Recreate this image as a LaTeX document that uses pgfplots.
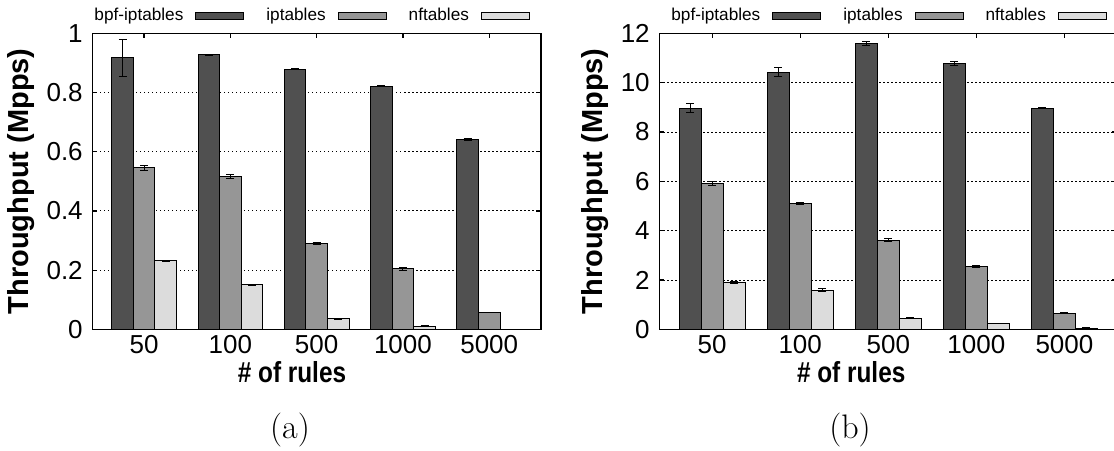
\documentclass[border=0pt]{standalone}
\usepackage{fontspec}
\usepackage{pgfplots}
\usepackage{pgfplotstable}
\pgfplotsset{compat=1.18}
\newfontfamily\arial{Liberation Sans}
\newfontfamily\arialx[FakeStretch=0.84]{Liberation Sans}
\definecolor{cdark}{HTML}{505050}
\definecolor{cmid}{HTML}{969696}
\definecolor{clight}{HTML}{DCDCDC}

\pgfplotstableread{
x bpf ebpf ipt eipt nft enft
0 0.917 0.063 0.545 0.010 0.231 0.002
1 0.927 0.002 0.516 0.006 0.150 0.002
2 0.879 0.002 0.290 0.002 0.035 0.001
3 0.821 0.002 0.204 0.005 0.011 0.001
4 0.641 0.003 0.057 0.001 0.001 0.000
}\dataA

\pgfplotstableread{
x bpf ebpf ipt eipt nft enft
0 8.97 0.17 5.90 0.08 1.90 0.04
1 10.42 0.19 5.11 0.04 1.59 0.06
2 11.59 0.07 3.62 0.08 0.45 0.02
3 10.78 0.07 2.55 0.04 0.24 0.01
4 8.97 0.03 0.65 0.02 0.05 0.02
}\dataB

\pgfplotsset{
  barchart/.style={
    scale only axis, ybar, bar width=0.25,
    enlargelimits=false, xmin=-0.6, xmax=4.6, ymin=0,
    xtick={0,1,2,3,4}, xticklabels={50,100,500,1000,5000},
    ymajorgrids,
    grid style={black, line width=0.45pt, dash pattern=on 0.6pt off 1.4pt},
    axis line style={black, line width=0.7pt},
    tick style={black, line width=0.6pt},
    major tick length=2.5pt, tick align=inside,
    /pgf/number format/assume math mode=true,
    ticklabel style={font=\arial\fontsize{13}{13}\selectfont},
    xticklabel style={inner sep=0pt, yshift=-2.8pt},
    yticklabel style={inner sep=0pt, xshift=-4.6pt},
    xlabel style={font=\arialx\bfseries\fontsize{14.5}{14.5}\selectfont},
    ylabel style={font=\arial\bfseries\fontsize{14.5}{14.5}\selectfont},
    legend columns=3, legend plot pos=right, legend cell align=left,
    legend image code/.code={\draw[##1, draw=black, line width=0.5pt] (0pt,-1.7pt) rectangle (24pt,1.7pt);},
    legend style={draw=none, fill=none, inner sep=0pt,
      font=\arial\fontsize{8.6}{8.6}\selectfont,
      nodes={inner sep=0pt},
      /tikz/every odd column/.append style={column sep=6pt},
      /tikz/every even column/.append style={column sep=11pt}},
  },
  ebars/.style={error bars/.cd, y dir=both, y explicit,
    error bar style={black, line width=0.5pt},
    error mark options={rotate=90, mark size=2pt, black, line width=0.5pt}},
}

\begin{document}
\begin{tikzpicture}
\useasboundingbox (0,0) rectangle (557pt,-225pt);

\begin{axis}[barchart,
  at={(46.15pt,-164.65pt)}, anchor=south west,
  width=224.35pt, height=148pt,
  ymax=1, ytick={0,0.2,0.4,0.6,0.8,1},
  xlabel={\# of rules}, ylabel={Throughput (Mpps)},
  xlabel style={at={(axis description cs:0.445,0)}, anchor=base, yshift=-26.8pt},
  ylabel style={at={(axis description cs:-0.1433,0.5)}, anchor=base},
  legend style={at={(axis description cs:0.004,1.058)}, anchor=west},
]
\addplot[fill=cdark, draw=black, line width=0.5pt, bar shift=-0.25, ebars] table[x=x, y=bpf, y error=ebpf] {\dataA};
\addplot[fill=cmid, draw=black, line width=0.5pt, bar shift=0, ebars] table[x=x, y=ipt, y error=eipt] {\dataA};
\addplot[fill=clight, draw=black, line width=0.5pt, bar shift=0.25, ebars] table[x=x, y=nft, y error=enft] {\dataA};
\legend{bpf-iptables, iptables, nftables}
\end{axis}

\begin{axis}[barchart,
  at={(329.65pt,-164.65pt)}, anchor=south west,
  width=229pt, height=148pt,
  ymax=12, ytick={0,2,4,6,8,10,12},
  xlabel={\# of rules}, ylabel={Throughput (Mpps)},
  xlabel style={at={(axis description cs:0.419,0)}, anchor=base, yshift=-26.8pt},
  ylabel style={at={(axis description cs:-0.123,0.5)}, anchor=base},
  legend style={at={(axis description cs:0.0256,1.058)}, anchor=west},
]
\addplot[fill=cdark, draw=black, line width=0.5pt, bar shift=-0.25, ebars] table[x=x, y=bpf, y error=ebpf] {\dataB};
\addplot[fill=cmid, draw=black, line width=0.5pt, bar shift=0, ebars] table[x=x, y=ipt, y error=eipt] {\dataB};
\addplot[fill=clight, draw=black, line width=0.5pt, bar shift=0.25, ebars] table[x=x, y=nft, y error=enft] {\dataB};
\legend{bpf-iptables, iptables, nftables}
\end{axis}

\node[font=\fontsize{17}{17}\selectfont, anchor=base] at (145pt,-219pt) {(a)};
\node[font=\fontsize{17}{17}\selectfont, anchor=base] at (425pt,-219pt) {(b)};
\end{tikzpicture}
\end{document}
